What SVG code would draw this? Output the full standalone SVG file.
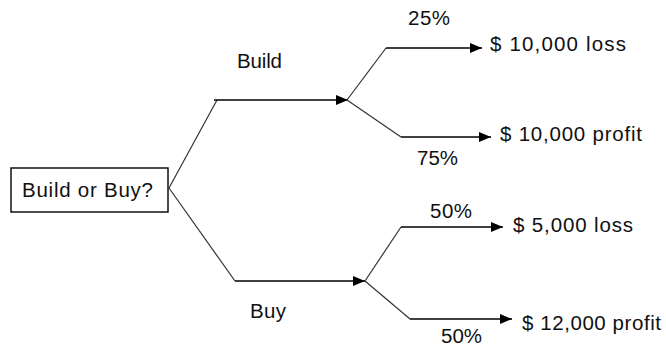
<svg xmlns="http://www.w3.org/2000/svg" width="666" height="350" viewBox="0 0 666 350">
<defs>
<marker id="ah" viewBox="0 0 12 10" refX="12" refY="5" markerWidth="12" markerHeight="10" markerUnits="userSpaceOnUse" orient="auto">
<path d="M0,0 L12,5 L0,10 Z" fill="#000"/>
</marker>
<style>
.t{font-family:"Liberation Sans",Arial,sans-serif;font-size:20.5px;fill:#111}
.c{fill:none;stroke:#000;stroke-width:1.4}
.d{fill:none;stroke:#333;stroke-width:1.2}
</style>
</defs>
<rect width="666" height="350" fill="#fff"/>
<g id="connectors">
<path class="d" d="M169,188 L217,100"/>
<path class="c" d="M214,100 L348,100" marker-end="url(#ah)"/>
<path class="d" d="M169,188 L235,281"/>
<path class="c" d="M235,281 L365,281" marker-end="url(#ah)"/>
<path class="d" d="M347,100 L386,48"/>
<path class="c" d="M386,48 L482,48" marker-end="url(#ah)"/>
<path class="d" d="M347,100 L401,137"/>
<path class="c" d="M401,137 L491,137" marker-end="url(#ah)"/>
<path class="d" d="M365,281 L401,227"/>
<path class="c" d="M401,227 L503,227" marker-end="url(#ah)"/>
<path class="d" d="M365,281 L410,319"/>
<path class="c" d="M410,319 L512,319" marker-end="url(#ah)"/>
</g>
<g id="root">
<rect x="11" y="168" width="157" height="44" fill="#fff" stroke="#000" stroke-width="1.4"/>
<text class="t" x="22" y="197" textLength="131" lengthAdjust="spacing">Build or Buy?</text>
</g>
<g id="label-build"><text class="t" x="237" y="68" textLength="45" lengthAdjust="spacing">Build</text></g>
<g id="label-buy"><text class="t" x="250" y="318" textLength="36" lengthAdjust="spacing">Buy</text></g>
<g id="p25"><text class="t" x="408" y="25" textLength="42" lengthAdjust="spacing">25%</text></g>
<g id="p75"><text class="t" x="417" y="165" textLength="41" lengthAdjust="spacing">75%</text></g>
<g id="p50a"><text class="t" x="430" y="218" textLength="42" lengthAdjust="spacing">50%</text></g>
<g id="p50b"><text class="t" x="441" y="343" textLength="41" lengthAdjust="spacing">50%</text></g>
<g id="out1"><text class="t" x="490" y="51" textLength="136" lengthAdjust="spacing">$ 10,000 loss</text></g>
<g id="out2"><text class="t" x="500" y="141" textLength="142" lengthAdjust="spacing">$ 10,000 profit</text></g>
<g id="out3"><text class="t" x="513" y="232" textLength="120" lengthAdjust="spacing">$ 5,000 loss</text></g>
<g id="out4"><text class="t" x="522" y="330" textLength="139" lengthAdjust="spacing">$ 12,000 profit</text></g>
</svg>
